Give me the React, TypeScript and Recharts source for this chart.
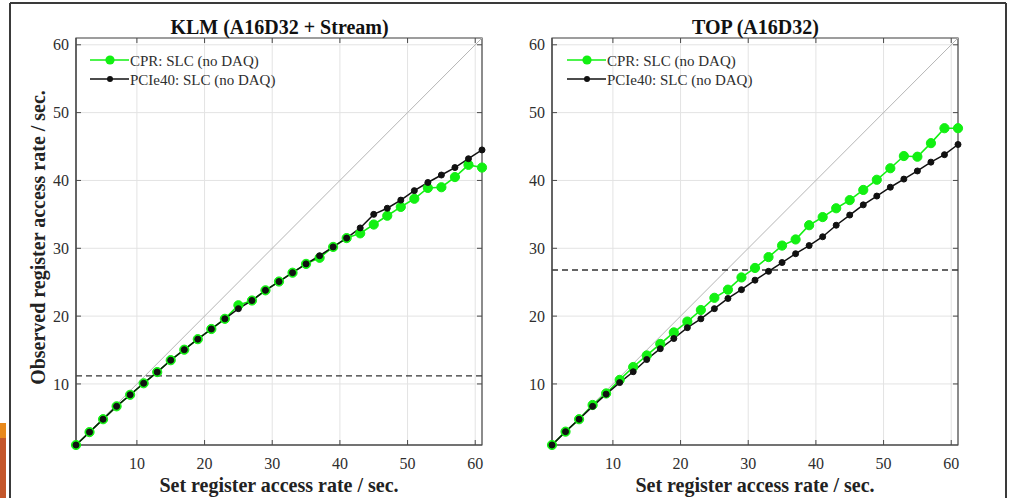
import React from 'react';
import {
  LineChart,
  Line,
  XAxis,
  YAxis,
  CartesianGrid,
  ReferenceLine,
  ReferenceArea,
} from 'recharts';

// ---------- data ----------
const setRates = [1, 3, 5, 7, 9, 11, 13, 15, 17, 19, 21, 23, 25, 27, 29, 31, 33, 35, 37, 39, 41, 43, 45, 47, 49, 51, 53, 55, 57, 59, 61];

const klmCpr = [1, 2.9, 4.8, 6.7, 8.4, 10.1, 11.75, 13.5, 15.05, 16.6, 18.1, 19.6, 21.6, 22.3, 23.8, 25.1, 26.4, 27.7, 28.6, 30.2, 31.5, 32.2, 33.5, 34.8, 36.1, 37.3, 38.9, 39.0, 40.5, 42.3, 41.9];
const klmPcie = [1, 2.9, 4.8, 6.7, 8.4, 10.1, 11.75, 13.5, 15.05, 16.6, 18.1, 19.6, 21.1, 22.3, 23.8, 25.1, 26.4, 27.7, 28.9, 30.2, 31.5, 33.0, 35.0, 35.9, 37.1, 38.5, 39.7, 40.8, 41.9, 43.2, 44.5];

const topCpr = [1, 2.97, 4.8, 6.9, 8.6, 10.6, 12.5, 14.2, 15.9, 17.6, 19.2, 20.9, 22.7, 23.9, 25.7, 27.1, 28.7, 30.4, 31.3, 33.4, 34.6, 35.9, 37.1, 38.6, 40.1, 41.8, 43.6, 43.5, 45.5, 47.7, 47.7];
const topPcie = [1, 2.97, 4.8, 6.7, 8.5, 10.2, 11.8, 13.6, 15.2, 16.7, 18.3, 19.6, 21.1, 22.6, 23.9, 25.3, 26.6, 27.9, 29.2, 30.4, 31.7, 33.4, 34.9, 36.4, 37.7, 39.0, 40.2, 41.4, 42.7, 43.8, 45.3];

const klmLimit = 11.2;
const topLimit = 26.8;

const axisTicks = [10, 20, 30, 40, 50, 60];
const axisMin = 1;
const axisMax = 61;

const klmTitle = 'KLM (A16D32 + Stream)';
const topTitle = 'TOP (A16D32)';
const cprLabel = 'CPR: SLC (no DAQ)';
const pcieLabel = 'PCIe40: SLC (no DAQ)';
const xLabel = 'Set register access rate / sec.';
const yLabel = 'Observed register access rate / sec.';

// ---------- styles ----------
const FONT = "'Liberation Serif', 'Times New Roman', serif";
const AXIS = '#4a4a4a';
const TEXT = '#2e2e2e';
const GRID = '#e3e3e3';
const GREEN = '#12f012';
const BLACK = '#111111';

const PLOT_W = 406;
const PLOT_H = 407;

const buildRows = (cpr: number[], pcie: number[]) =>
  setRates.map((x, i) => ({ x, cpr: cpr[i], pcie: pcie[i] }));

const YTick = (props: any) => {
  const { x, y, payload } = props;
  const ax = x + 7;
  return (
    <g>
      <line x1={ax} x2={ax + 5} y1={y} y2={y} stroke={AXIS} strokeWidth={1} />
      <line x1={ax + PLOT_W - 5} x2={ax + PLOT_W} y1={y} y2={y} stroke={AXIS} strokeWidth={1} />
      <text x={x} y={y} dy="0.35em" textAnchor="end" fontFamily={FONT} fontSize={16} fill={TEXT}>
        {payload.value}
      </text>
    </g>
  );
};

const XTick = (props: any) => {
  const { x, y, payload } = props;
  const ay = y - 9;
  return (
    <g>
      <line x1={x} x2={x} y1={ay} y2={ay - 5} stroke={AXIS} strokeWidth={1} />
      <line x1={x} x2={x} y1={ay - PLOT_H} y2={ay - PLOT_H + 5} stroke={AXIS} strokeWidth={1} />
      <text x={x} y={y + 15} textAnchor="middle" fontFamily={FONT} fontSize={16} fill={TEXT}>
        {payload.value}
      </text>
    </g>
  );
};

type PanelProps = {
  left: number;
  width: number;
  marginLeft: number;
  yWidth: number;
  marginRight: number;
  cpr: number[];
  pcie: number[];
  limit: number;
};

const Panel = ({ left, width, marginLeft, yWidth, marginRight, cpr, pcie, limit }: PanelProps) => {
  const rows = buildRows(cpr, pcie);
  return (
    <div style={{ position: 'absolute', left, top: 0 }}>
      <LineChart
        width={width}
        height={480}
        data={rows}
        margin={{ top: 38, right: marginRight, left: marginLeft, bottom: 5 }}
      >
        <CartesianGrid stroke={GRID} strokeWidth={1} />
        <XAxis
          dataKey="x"
          type="number"
          domain={[axisMin, axisMax]}
          ticks={axisTicks}
          height={30}
          tickSize={0}
          tickMargin={9}
          tickLine={false}
          axisLine={{ stroke: AXIS, strokeWidth: 1.2 }}
          tick={<XTick />}
          interval={0}
        />
        <YAxis
          type="number"
          domain={[axisMin, axisMax]}
          ticks={axisTicks}
          width={yWidth}
          tickSize={0}
          tickMargin={7}
          tickLine={false}
          axisLine={{ stroke: AXIS, strokeWidth: 1.2 }}
          tick={<YTick />}
          interval={0}
        />
        <ReferenceArea
          x1={axisMin}
          x2={axisMax}
          y1={axisMin}
          y2={axisMax}
          fill="none"
          fillOpacity={0}
          stroke={AXIS}
          strokeWidth={1.2}
        />
        <ReferenceLine
          segment={[
            { x: axisMin, y: axisMin },
            { x: axisMax, y: axisMax },
          ]}
          stroke="#b5b5b5"
          strokeWidth={1}
        />
        <ReferenceLine y={limit} stroke="#333" strokeWidth={1.3} strokeDasharray="6 4" />
        <Line
          dataKey="cpr"
          stroke={GREEN}
          strokeWidth={1.6}
          dot={{ r: 4.6, fill: GREEN, stroke: GREEN, strokeWidth: 1 }}
          isAnimationActive={false}
        />
        <Line
          dataKey="pcie"
          stroke={BLACK}
          strokeWidth={1.5}
          dot={{ r: 3, fill: BLACK, stroke: BLACK, strokeWidth: 1 }}
          isAnimationActive={false}
        />
      </LineChart>
    </div>
  );
};

const LegendBlock = ({ x0 }: { x0: number }) => (
  <g>
    <line x1={x0} x2={x0 + 39} y1={60} y2={60} stroke={GREEN} strokeWidth={1.6} />
    <circle cx={x0 + 20} cy={60} r={4.6} fill={GREEN} />
    <text x={x0 + 40} y={66} fontFamily={FONT} fontSize={15} fill={TEXT}>
      {cprLabel}
    </text>
    <line x1={x0} x2={x0 + 39} y1={79} y2={79} stroke={BLACK} strokeWidth={1.5} />
    <circle cx={x0 + 20} cy={79} r={3} fill={BLACK} />
    <text x={x0 + 40} y={85} fontFamily={FONT} fontSize={15} fill={TEXT}>
      {pcieLabel}
    </text>
  </g>
);

export default function App() {
  return (
    <div
      style={{
        position: 'absolute',
        left: 0,
        top: 0,
        width: 1009,
        height: 498,
        background: '#fff',
        overflow: 'hidden',
      }}
    >
      <Panel left={0} width={500} marginLeft={16} yWidth={60} marginRight={18} cpr={klmCpr} pcie={klmPcie} limit={klmLimit} />
      <Panel left={500} width={480} marginLeft={0} yWidth={52} marginRight={22} cpr={topCpr} pcie={topPcie} limit={topLimit} />
      <svg
        width={1009}
        height={498}
        style={{ position: 'absolute', left: 0, top: 0, pointerEvents: 'none' }}
      >
        {/* slide decorations */}
        <rect x={0} y={423} width={6} height={15} fill="#e8891c" />
        <rect x={0} y={438} width={6} height={60} fill="#c4562a" />
        <line x1={10} x2={10} y1={3} y2={498} stroke="#3a3a3a" strokeWidth={2} />
        <line x1={10} x2={1006} y1={3} y2={3} stroke="#3a3a3a" strokeWidth={2} />
        <line x1={1006} x2={1006} y1={3} y2={498} stroke="#3a3a3a" strokeWidth={2} />

        {/* titles */}
        <text x={279.5} y={34} textAnchor="middle" fontFamily={FONT} fontWeight="bold" fontSize={20} fill="#111">
          {klmTitle}
        </text>
        <text x={755.5} y={34} textAnchor="middle" fontFamily={FONT} fontWeight="bold" fontSize={20} fill="#111">
          {topTitle}
        </text>

        {/* axis labels */}
        <text x={279} y={492} textAnchor="middle" fontFamily={FONT} fontWeight="bold" fontSize={20} fill="#222">
          {xLabel}
        </text>
        <text x={755} y={492} textAnchor="middle" fontFamily={FONT} fontWeight="bold" fontSize={20} fill="#222">
          {xLabel}
        </text>
        <text
          transform="translate(45,237.5) rotate(-90)"
          textAnchor="middle"
          fontFamily={FONT}
          fontWeight="bold"
          fontSize={20}
          fill="#222"
        >
          {yLabel}
        </text>

        {/* legends */}
        <LegendBlock x0={90} />
        <LegendBlock x0={567} />
      </svg>
    </div>
  );
}
